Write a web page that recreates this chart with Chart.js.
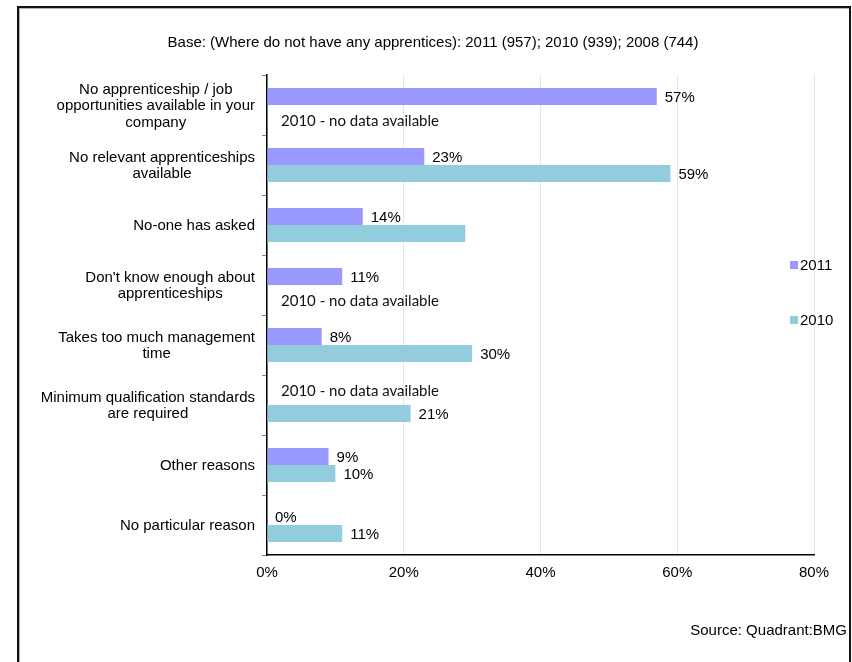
<!DOCTYPE html>
<html>
<head>
<meta charset="utf-8">
<script src="https://cdn.jsdelivr.net/npm/chart.js@4.4.1/dist/chart.umd.min.js"></script>
<style>
  html, body { margin: 0; padding: 0; background: #fff; }
  #wrap { position: relative; width: 852px; height: 662px; overflow: hidden; }
  #reasonsChart { position: absolute; left: 0; top: 0; }
  #frame {
    position: absolute; left: 17px; top: 6px; width: 834px; height: 700px;
    box-sizing: border-box; border: 2px solid #111;
    box-shadow: inset 1px 1px 0 #b0b0b0; pointer-events: none;
  }
</style>
</head>
<body>
<div id="wrap">
  <canvas id="reasonsChart" width="852" height="662"></canvas>
  <div id="frame"></div>
</div>
<script>
const categories = [
  ["No apprenticeship / job", "opportunities available in your", "company"],
  ["No relevant apprenticeships", "available"],
  ["No-one has asked"],
  ["Don't know enough about", "apprenticeships"],
  ["Takes too much management", "time"],
  ["Minimum qualification standards", "are required"],
  ["Other reasons"],
  ["No particular reason"]
];
const seriesNames = ["2011", "2010"];
const values2011 = [57, 23, 14, 11, 8, null, 9, 0];
const values2010 = [null, 59, 29, null, 30, 21, 10, 11];
const unlabelled2010 = [2];        // "No-one has asked" 2010 bar carries no value label
const xTicks = [0, 20, 40, 60, 80];
const barColors = ["#9999ff", "#93cddd"];

const baseText = "Base: (Where do not have any apprentices): 2011 (957); 2010 (939); 2008 (744)";
const noDataText = "2010 - no data available";
const sourceText = "Source: Quadrant:BMG";

const FONT = "'Liberation Sans', Arial, sans-serif";
const SIZE = 15;

// value labels, "no data" notes, category labels, legend and source line
const extras = {
  id: "extras",
  afterDatasetsDraw(chart) {
    const ctx = chart.ctx;
    const area = chart.chartArea;
    ctx.save();
    ctx.textBaseline = "middle";
    ctx.textAlign = "left";
    chart.data.datasets.forEach((ds, d) => {
      const meta = chart.getDatasetMeta(d);
      meta.data.forEach((bar, i) => {
        const v = ds.data[i];
        if (v === null) {
          ctx.font = "15px Lato, 'Open Sans', sans-serif";
          ctx.fillStyle = "#111";
          ctx.fillText(noDataText, area.left + 14, bar.y + (d === 1 ? 8 : -5));
          return;
        }
        if (d === 1 && unlabelled2010.includes(i)) return;
        ctx.font = SIZE + "px " + FONT;
        ctx.fillStyle = "#000";
        ctx.fillText(v + "%", bar.x + 8, bar.y + 1);
      });
    });
    ctx.restore();
  },
  afterDraw(chart) {
    const ctx = chart.ctx;
    const area = chart.chartArea;
    const yScale = chart.scales.y;
    ctx.save();
    ctx.font = SIZE + "px " + FONT;
    ctx.fillStyle = "#000";
    ctx.textBaseline = "middle";

    // category labels: each block centred on itself, blocks right-aligned to the axis
    const lineH = 16.5;
    categories.forEach((lines, i) => {
      const y = yScale.getPixelForValue(i);
      const blockW = Math.max(...lines.map(l => ctx.measureText(l).width));
      const cx = area.left - 12 - blockW / 2;
      ctx.textAlign = "center";
      lines.forEach((l, k) => {
        ctx.fillText(l, cx, y + (k - (lines.length - 1) / 2) * lineH + 1);
      });
    });

    // legend
    chart.data.datasets.forEach((ds, d) => {
      const ly = area.top + 190 + d * 55;
      ctx.fillStyle = ds.backgroundColor;
      ctx.fillRect(area.right - 24, ly - 4, 8, 8);
      ctx.fillStyle = "#000";
      ctx.textAlign = "left";
      ctx.fillText(ds.label, area.right - 14, ly + 1);
    });

    // source line
    ctx.textAlign = "right";
    ctx.fillText(sourceText, chart.width - 5, 631);
    ctx.restore();
  }
};

new Chart("reasonsChart", {
  type: "bar",
  data: {
    labels: categories,
    datasets: [
      { label: seriesNames[0], data: values2011, backgroundColor: barColors[0] },
      { label: seriesNames[1], data: values2010, backgroundColor: barColors[1] }
    ]
  },
  options: {
    indexAxis: "y",
    responsive: false,
    animation: false,
    devicePixelRatio: 1,
    categoryPercentage: 0.57,
    barPercentage: 1.0,
    layout: { padding: { left: 52, right: 38, top: 0, bottom: 0 } },
    scales: {
      x: {
        min: 0,
        max: 80,
        afterBuildTicks(scale) { scale.ticks = xTicks.map(v => ({ value: v })); },
        afterFit(scale) { scale.height = 107; },
        ticks: {
          padding: 9,
          color: "#000",
          font: { family: FONT, size: SIZE },
          callback: v => v + "%"
        },
        grid: { color: "#dce8f5", drawTicks: false },
        border: { color: "#000", width: 1.5 }
      },
      y: {
        afterFit(scale) { scale.width = 215; },
        ticks: { display: false },
        grid: { drawOnChartArea: false, drawTicks: true, tickLength: 5, color: "#8a8a8a" },
        border: { color: "#000", width: 1.5 }
      }
    },
    plugins: {
      legend: { display: false },
      tooltip: { enabled: false },
      title: {
        display: true,
        text: baseText,
        color: "#000",
        font: { family: FONT, size: SIZE, weight: "normal" },
        padding: { top: 34, bottom: 23 }
      }
    }
  },
  plugins: [extras]
});
</script>
</body>
</html>
